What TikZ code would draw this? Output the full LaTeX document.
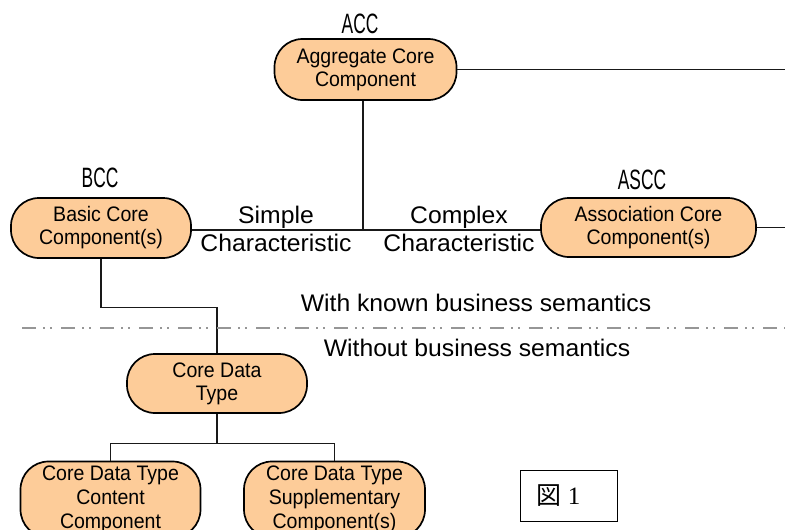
\documentclass[tikz,border=0pt]{standalone}
\usepackage{fontspec}
\setmainfont{Liberation Sans}
\newfontfamily\boxfont[FakeStretch=0.93]{Liberation Sans}
\newfontfamily\notefont[FakeStretch=1.03]{Liberation Sans}
\newfontfamily\tagfont[FakeStretch=0.62]{Liberation Sans}
\newfontfamily\cjk{Noto Sans CJK JP}
\newfontfamily\seriffont{Liberation Serif}
\definecolor{peach}{RGB}{253,204,153}
\definecolor{rule}{RGB}{150,150,150}

\tikzset{
  comp/.style={rectangle, draw=black, line width=1.7pt, fill=peach,
    rounded corners=28pt, inner sep=0pt, align=center,
    font=\boxfont\fontsize{21}{23}\selectfont},
  tag/.style={font=\tagfont\fontsize{28}{28}\selectfont, inner sep=0pt},
  note/.style={font=\notefont\fontsize{24}{28}\selectfont, align=center, inner sep=0pt},
  link/.style={draw=black!90, line width=1.2pt},
  divider/.style={draw=rule, line width=2.6pt,
    dash pattern=on 14pt off 7pt on 1.5pt off 5.5pt on 1.5pt off 9.5pt}
}

\begin{document}
\begin{tikzpicture}[x=1pt, y=-1pt]
  \useasboundingbox (0,0) rectangle (785,530);
  \clip (0,0) rectangle (785,530);

  % component boxes
  \node[comp, minimum width=182pt, minimum height=61pt] (acc) at (365.5,69.5)
    {Aggregate Core\\Component};
  \node[comp, minimum width=180pt, minimum height=60pt] (bcc) at (101,228)
    {Basic Core\\Component(s)};
  \node[comp, minimum width=215pt, minimum height=59pt] (ascc) at (648.5,227.5)
    {Association Core\\Component(s)};
  \node[comp, minimum width=180pt, minimum height=59pt] (cdt) at (217,383.5)
    {Core Data\\Type};
  \node[comp, minimum width=180pt, minimum height=76pt,
        font=\boxfont\fontsize{21}{24}\selectfont] (cdtcc) at (110.5,499.5)
    {Core Data Type\\Content\\Component};
  \node[comp, minimum width=181pt, minimum height=76pt,
        font=\boxfont\fontsize{21}{24}\selectfont] (cdtsc) at (334.5,499.5)
    {Core Data Type\\Supplementary\\Component(s)};

  % abbreviations above the boxes
  \node[tag] (accTag) at (360,24) {ACC};
  \node[tag] (bccTag) at (100,178) {BCC};
  \node[tag] (asccTag) at (642,180) {ASCC};

  % characteristic labels
  \node[note] (simple) at (276,229) {Simple\\Characteristic};
  \node[note] (complex) at (459,229) {Complex\\Characteristic};

  % semantic layers
  \node[note] (withSem) at (476,303) {With known business semantics};
  \node[note] (withoutSem) at (477,348) {Without business semantics};

  % free ends and junctions
  \coordinate (accOut) at (785,69.5);
  \coordinate (asccOut) at (785,227.5);
  \coordinate (joint) at (363,230);
  \coordinate (divL) at (22,328);
  \coordinate (divR) at (785,328);

  % connectors
  \draw[link] (acc.east) -- (accOut);
  \draw[link] (ascc.east) -- (asccOut);
  \draw[link] (acc.south -| joint) -- (joint);
  \draw[link] (bcc.east |- joint) -- (ascc.west |- joint);
  \draw[link] (bcc.south) -- ++(0,49) -| (cdt.north);
  \draw[link] (cdt.south) -- ++(0,30) coordinate (split);
  \draw[link] (split) -| (cdtcc.north);
  \draw[link] (split) -| (cdtsc.north);

  % dash-dot divider
  \draw[divider] (divL) -- (divR);

  % figure caption box (text sits a little left of centre)
  \node[draw=black, line width=1pt, minimum width=97pt, minimum height=51pt,
        inner sep=0pt, font=\fontsize{25}{25}\selectfont] (fig) at (568.5,495.5)
    {{\cjk 図}\kern6pt{\seriffont 1}\kern20pt};
\end{tikzpicture}
\end{document}
